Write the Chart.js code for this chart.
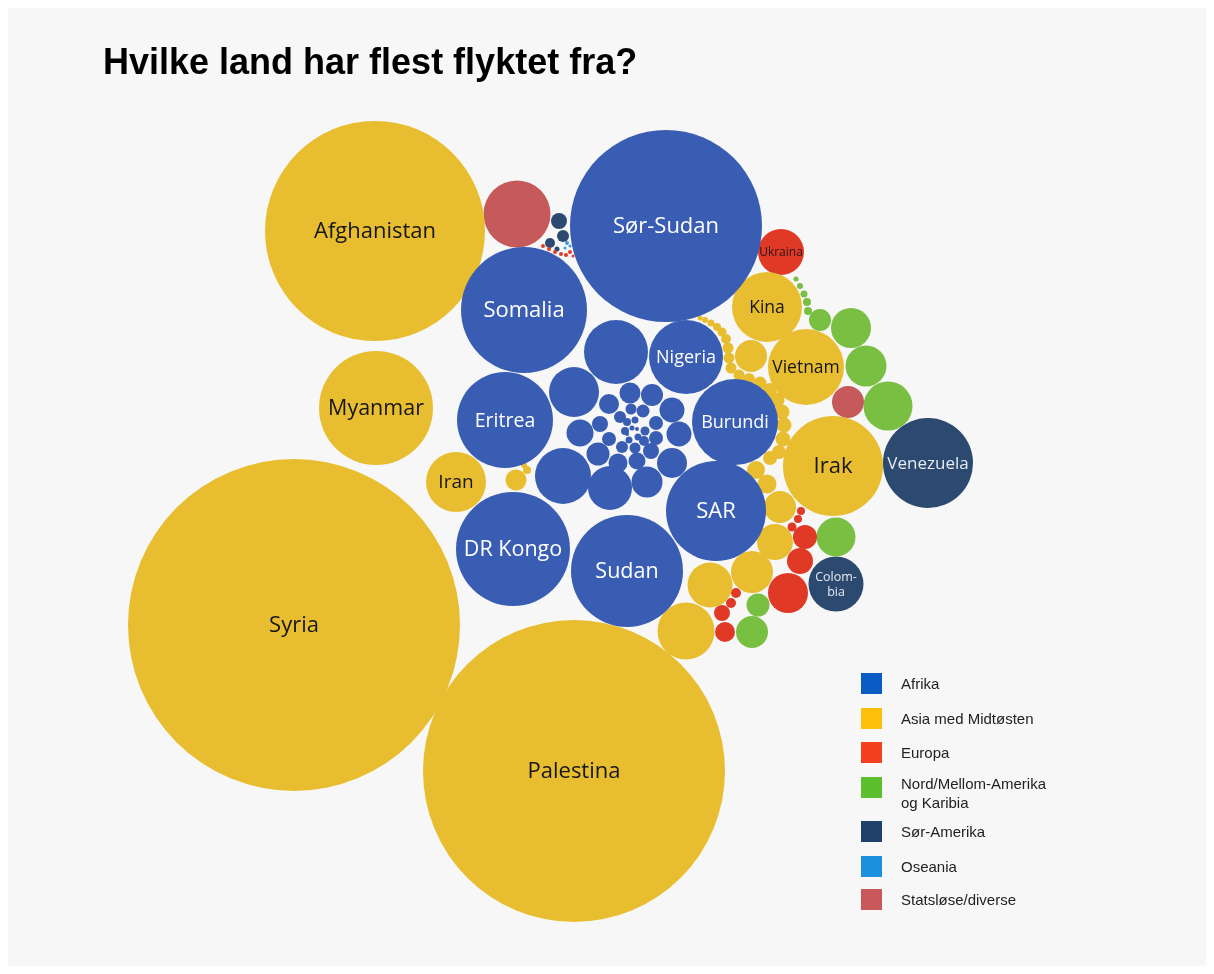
<!DOCTYPE html>
<html><head><meta charset="utf-8">
<script src="https://cdn.jsdelivr.net/npm/chart.js@4/dist/chart.umd.min.js"></script>
<style>
html,body{margin:0;padding:0;background:#ffffff;}
#wrap{position:relative;width:1214px;height:974px;overflow:hidden;}
#panel{position:absolute;left:8px;top:8px;width:1198px;height:958px;background:#f7f7f7;}
#title{position:absolute;left:103px;top:44px;font:700 36px/36px "Liberation Sans",Arial,sans-serif;color:#000;white-space:nowrap;}
#c{position:absolute;left:0;top:0;}
#legend{position:absolute;left:0;top:0;width:1214px;height:974px;font:15px/19px "Liberation Sans",Arial,sans-serif;color:#222;}
.sw{position:absolute;width:21px;height:21px;left:861px;}
.lt{position:absolute;left:901px;white-space:nowrap;}
</style>
</head><body>
<div id="wrap">
<div id="panel"></div>
<canvas id="c" width="1214" height="974"></canvas>
<div id="title">Hvilke land har flest flyktet fra?</div>
<div id="legend"></div>
</div>
<script>
// Regions (legend order)
const regions = ['Afrika','Asia med Midtøsten','Europa','Nord/Mellom-Amerika\nog Karibia','Sør-Amerika','Oseania','Statsløse/diverse'];

// Bubbles per region: [label, x, y, r]  (packed-layout coordinates, r = bubble size)
const afrika = [
  ['Sør-Sudan',666,226,96],['Somalia',524,310,63],['DR Kongo',513,549,57],['Sudan',627,571,56],
  ['SAR',716,511,50],['Eritrea',505,420,48],['Burundi',735,422,43],['Nigeria',686,357,37],
  ['',616,352,32],['',563,476,28],['',574,392,25],['',610,488,22],['',647,482,15.5],['',672,463,15],
  ['',580,433,13.5],['',679,434,12.5],['',672,410,12.5],['',598,454,11.5],['',652,395,11],
  ['',630,393,10.5],['',609,404,10],['',618,463,9.5],['',637,461,8.5],['',651,451,8],['',600,424,8],
  ['',656,438,7],['',656,423,7],['',609,439,7],['',643,411,6.5],['',620,417,6],['',622,447,6],
  ['',631,409,5.5],['',635,448,5.5],['',644,441,5],['',645,431,4.5],['',625,431,4],['',627,422,4],
  ['',635,420,3.5],['',638,437,3.5],['',629,440,3.5],['',632,428,2.5],['',637,429,2],['',627,434,2]
];
const asia = [
  ['Syria',294,625,166],['Palestina',574,771,151],['Afghanistan',375,231,110],['Myanmar',376,408,57],
  ['Irak',833,466,50],['Vietnam',806,367,38],['Kina',767,307,35],['Iran',456,482,30],
  ['',686,631,28.5],['',710,585,22.5],['',752,572,21],['',775,542,18],['',780,507,16],['',751,356,16],
  ['',767,484,9.5],['',756,470,9],['',770,458,7],['',516,480,10.5],['',527,470,4],['',524,465,3],
  ['',700,318,2.5],['',705,320,3],['',711,323,3.5],['',717,327,4],['',722,332,4.5],['',726,339,5],
  ['',728,348,5.5],['',729,358,5.5],['',731,368,5.5],['',739,375,5.5],['',749,379,6],['',760,383,6.5],
  ['',770,390,7],['',777,400,7.5],['',782,412,7.5],['',784,425,7.5],['',783,439,7.5],['',779,452,7]
];
const europa = [
  ['Ukraina',781,252,23],['',788,593,20],['',800,561,13],['',805,537,12],['',725,632,10],['',722,613,8],
  ['',792,527,4.5],['',798,519,4],['',801,511,4],['',736,593,5],['',731,603,5],
  ['',543,246,2],['',549,249,2],['',555,252,2],['',561,254,2],['',566,255,2],['',570,252,2],['',573,256,1.5]
];
const nordAmerika = [
  ['',888,406,24.5],['',866,366,20.5],['',851,328,20],['',836,537,19.5],['',752,632,16],['',758,605,11.5],
  ['',820,320,11],['',796,279,2.5],['',800,286,3],['',804,294,3.5],['',807,302,4],['',808,311,4]
];
const sorAmerika = [
  ['Venezuela',928,463,45],['Colom-\nbia',836,584,27.5],['',559,221,8],['',563,236,6],['',550,243,5],['',557,249,2.5]
];
const oseania = [
  ['',567,243,2],['',565,248,1.5],['',570,246,1.5]
];
const statslose = [
  ['',517,214,33.5],['',848,402,16]
];

const groups = [afrika, asia, europa, nordAmerika, sorAmerika, oseania, statslose];
const bubbleColors = ['#3a5db4','#e8be30','#e03a27','#78bf42','#2c4a6f','#3b9be0','#c65a5a'];
const legendColors = ['#0b5bc4','#fcc00a','#f5401f','#5cbf2e','#1f4068','#1b90dc','#c8585a'];
const labelColors = ['#ffffff','#161616','#2a1414','#111111','#e6eaf2','#111111','#111111'];
const labelSizes = {'Syria':22,'Palestina':22,'Afghanistan':22,'Sør-Sudan':22,'Somalia':22,'Myanmar':21.5,
  'Eritrea':19.5,'DR Kongo':21.5,'Sudan':21.5,'SAR':22,'Burundi':18,'Nigeria':18,'Irak':22,'Vietnam':17.5,
  'Kina':17.5,'Iran':19,'Venezuela':17,'Ukraina':12,'Colom-\nbia':12.5};

const datasets = groups.map((g, i) => ({
  label: regions[i],
  data: g.map(p => ({x: p[1], y: p[2], r: p[3]})),
  names: g.map(p => p[0]),
  backgroundColor: bubbleColors[i],
  borderWidth: 0,
  hoverRadius: 0,
  hoverBorderWidth: 0,
  clip: false
}));

const labelPlugin = {
  id: 'bubbleLabels',
  afterDatasetsDraw(chart) {
    const ctx = chart.ctx;
    ctx.save();
    ctx.textAlign = 'center';
    ctx.textBaseline = 'middle';
    chart.data.datasets.forEach((ds, di) => {
      const meta = chart.getDatasetMeta(di);
      meta.data.forEach((el, j) => {
        const name = ds.names[j];
        if (!name) return;
        const size = labelSizes[name] || 14;
        ctx.font = size + 'px "Open Sans", sans-serif';
        ctx.fillStyle = labelColors[di];
        const lines = name.split('\n');
        const lh = size * 1.25;
        lines.forEach((ln, k) => {
          ctx.fillText(ln, el.x, el.y + (k - (lines.length - 1) / 2) * lh + 1);
        });
      });
    });
    ctx.restore();
  }
};

const chart = new Chart(document.getElementById('c'), {
  type: 'bubble',
  data: { datasets },
  options: {
    responsive: false,
    animation: false,
    events: [],
    layout: { padding: 0 },
    plugins: { legend: { display: false }, tooltip: { enabled: false }, title: { display: false } },
    scales: {
      x: { type: 'linear', min: 0, max: 1214, display: false },
      y: { type: 'linear', min: 0, max: 974, reverse: true, display: false }
    }
  },
  plugins: [labelPlugin]
});
// The bubble controller insets the plot area by the largest radius; align the
// scale ranges with that area so layout units equal canvas pixels.
const ca = chart.chartArea;
chart.options.scales.x.min = ca.left;
chart.options.scales.x.max = ca.right;
chart.options.scales.y.min = ca.top;
chart.options.scales.y.max = ca.bottom;
chart.update('none');

// HTML legend
const legendTops = [673, 708, 742, 777, 821, 856, 889];
const leg = document.getElementById('legend');
regions.forEach((name, i) => {
  const sw = document.createElement('div');
  sw.className = 'sw';
  sw.style.top = legendTops[i] + 'px';
  sw.style.background = legendColors[i];
  leg.appendChild(sw);
  const lines = name.split('\n');
  const t = document.createElement('div');
  t.className = 'lt';
  t.style.top = (legendTops[i] + 1 - (lines.length > 1 ? 4.5 : 0)) + 'px';
  t.innerHTML = lines.join('<br>');
  leg.appendChild(t);
});
</script>
</body></html>
